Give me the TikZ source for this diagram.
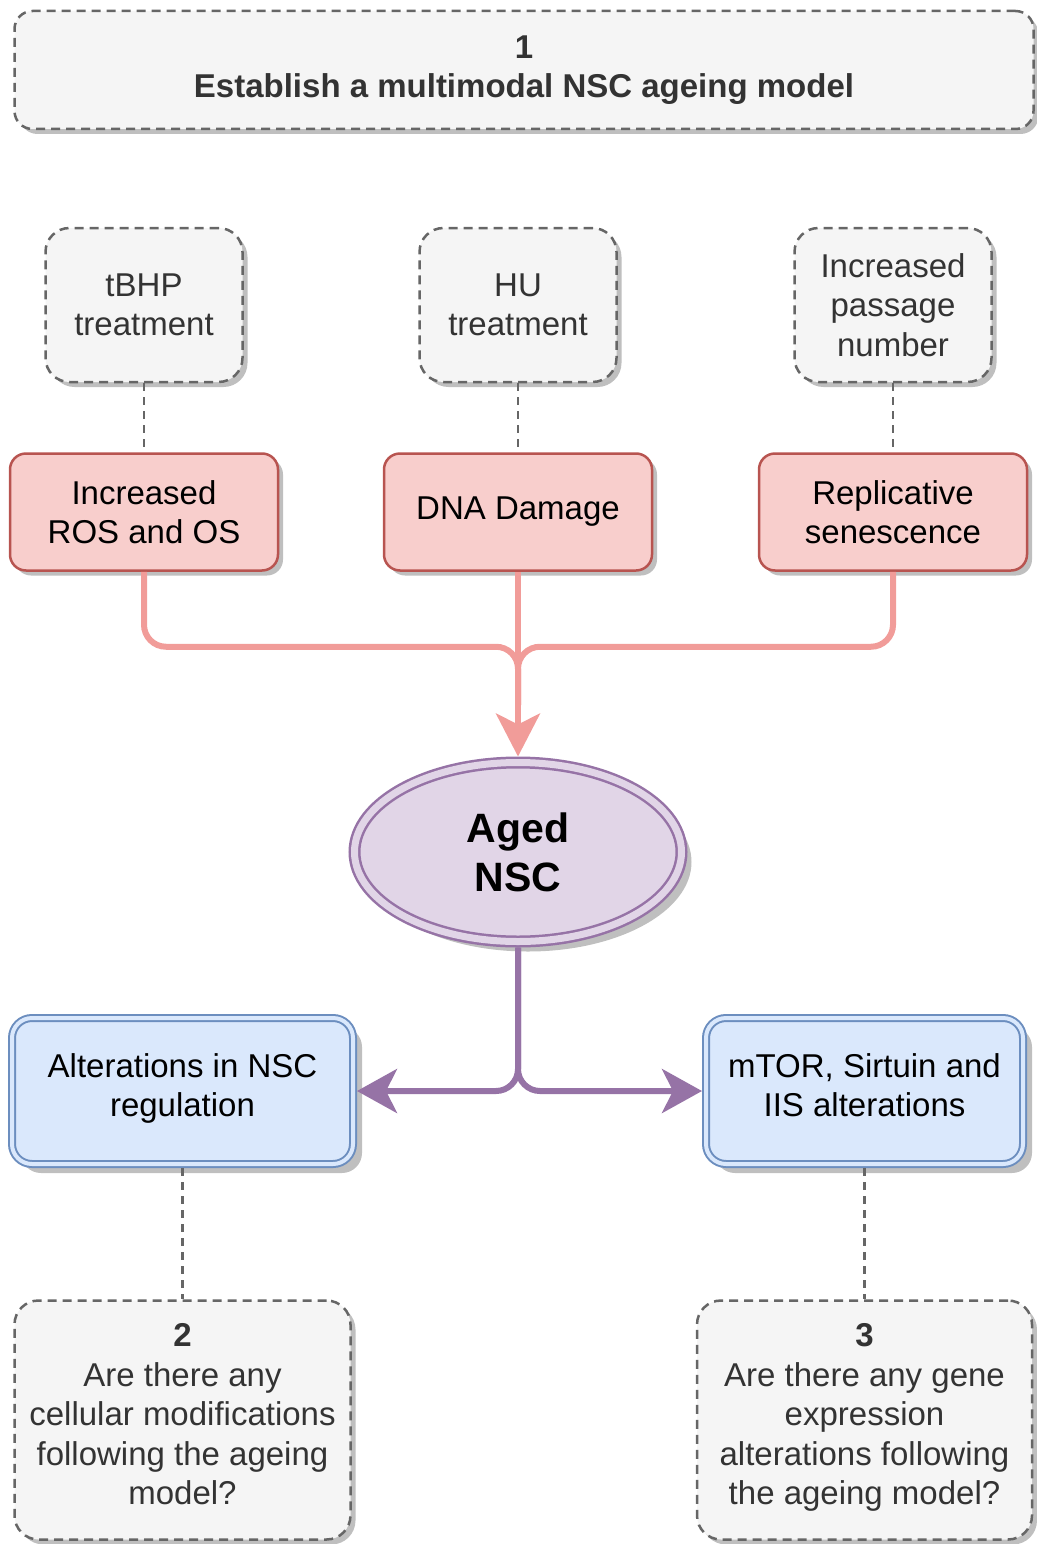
\documentclass[tikz,border=0pt]{standalone}
\usepackage{fontspec}
\setmainfont{Liberation Sans}
\usetikzlibrary{shapes.geometric,shadows,arrows.meta}
\definecolor{greyfill}{HTML}{F5F5F5}
\definecolor{greyline}{HTML}{666666}
\definecolor{greytext}{HTML}{333333}
\definecolor{redfill}{HTML}{F8CECC}
\definecolor{redline}{HTML}{B85450}
\definecolor{pinkflow}{HTML}{F19C99}
\definecolor{purplefill}{HTML}{E1D5E7}
\definecolor{purpleline}{HTML}{9673A6}
\definecolor{bluefill}{HTML}{DAE8FC}
\definecolor{blueline}{HTML}{6C8EBF}

\begin{document}
\begin{tikzpicture}[x=1pt, y=-1pt, line width=2.5,
    boxshadow/.style={drop shadow={shadow xshift=#1, shadow yshift=-#1, fill=black!25, opacity=1}},
    boxshadow/.default=5pt,
    txt/.style={align=center, inner sep=0pt, font=\fontsize{33}{39.5}\selectfont},
    question/.style={txt, boxshadow, draw=greyline, fill=greyfill, text=greytext,
        dash pattern=on 9pt off 6pt, rounded corners=24pt},
    cause/.style={txt, boxshadow, draw=redline, fill=redfill, rounded corners=16pt,
        minimum width=268pt, minimum height=117pt},
    outcome/.style={txt, boxshadow=9pt, draw=blueline, fill=bluefill, line width=2,
        double=bluefill, double distance=4, outer sep=4pt, rounded corners=20pt,
        minimum height=146pt},
    link/.style={draw=greyline, line width=2.5, dash pattern=on 8pt off 6pt},
    pinkline/.style={draw=pinkflow, line width=6, rounded corners=22pt},
    purpleflow/.style={draw=purpleline, line width=6, rounded corners=22pt,
        -{Stealth[length=40pt, width=44pt, inset=11pt]}}]
    \useasboundingbox (0,0) rectangle (1036,1544);

    \node[question, minimum width=1019pt, minimum height=118pt, rounded corners=18pt] (aim) at (524,70)
        {\textbf{1}\\\textbf{Establish a multimodal NSC ageing model}};

    \node[question, minimum width=197pt, minimum height=154pt] (tbhp) at (144,305) {tBHP\\treatment};
    \node[question, minimum width=197pt, minimum height=154pt] (hu) at (518,305) {HU\\treatment};
    \node[question, minimum width=197pt, minimum height=154pt] (passage) at (893,305) {Increased\\passage\\number};

    \node[cause] (ros) at (144,512) {Increased\\ROS and OS};
    \node[cause] (dna) at (518,512) {DNA Damage};
    \node[cause] (repl) at (893,512) {Replicative\\senescence};

    \node[ellipse, boxshadow=10pt, draw=purpleline, fill=purplefill, line width=2.5,
        double=purplefill, double distance=7, outer sep=6pt, inner sep=0pt,
        minimum width=327pt, minimum height=179pt, align=center,
        font=\fontsize{41}{49}\selectfont\bfseries] (aged) at (518,852) {Aged\\NSC};

    \node[outcome, minimum width=341pt] (regul) at (182.5,1091) {Alterations in NSC\\regulation\strut};
    \node[outcome, minimum width=317pt] (mtor) at (864.5,1091) {mTOR, Sirtuin and\\IIS alterations\strut};

    \node[question, minimum width=336pt, minimum height=239pt] (cellq) at (182.5,1420)
        {\textbf{2}\\Are there any\\cellular modifications\\following the ageing\\model?\strut};
    \node[question, minimum width=335pt, minimum height=239pt] (geneq) at (864.5,1420)
        {\textbf{3}\\Are there any gene\\expression\\alterations following\\the ageing model?\strut};

    \draw[link] (tbhp) -- (ros);
    \draw[link] (hu) -- (dna);
    \draw[link] (passage) -- (repl);
    \draw[link] (regul) -- (cellq);
    \draw[link] (mtor) -- (geneq);

    \coordinate (merge) at (518,705);
    \draw[pinkline] (ros.south) -- ++(0,75) -| (merge);
    \draw[pinkline] (repl.south) -- ++(0,75) -| (merge);
    \draw[pinkline, -{Stealth[length=43pt, width=44pt, inset=11pt]}] (dna.south) -- (aged.north);

    \draw[purpleflow] (aged.south) |- (regul.east);
    \draw[purpleflow] (aged.south) |- (mtor.west);
\end{tikzpicture}
\end{document}
